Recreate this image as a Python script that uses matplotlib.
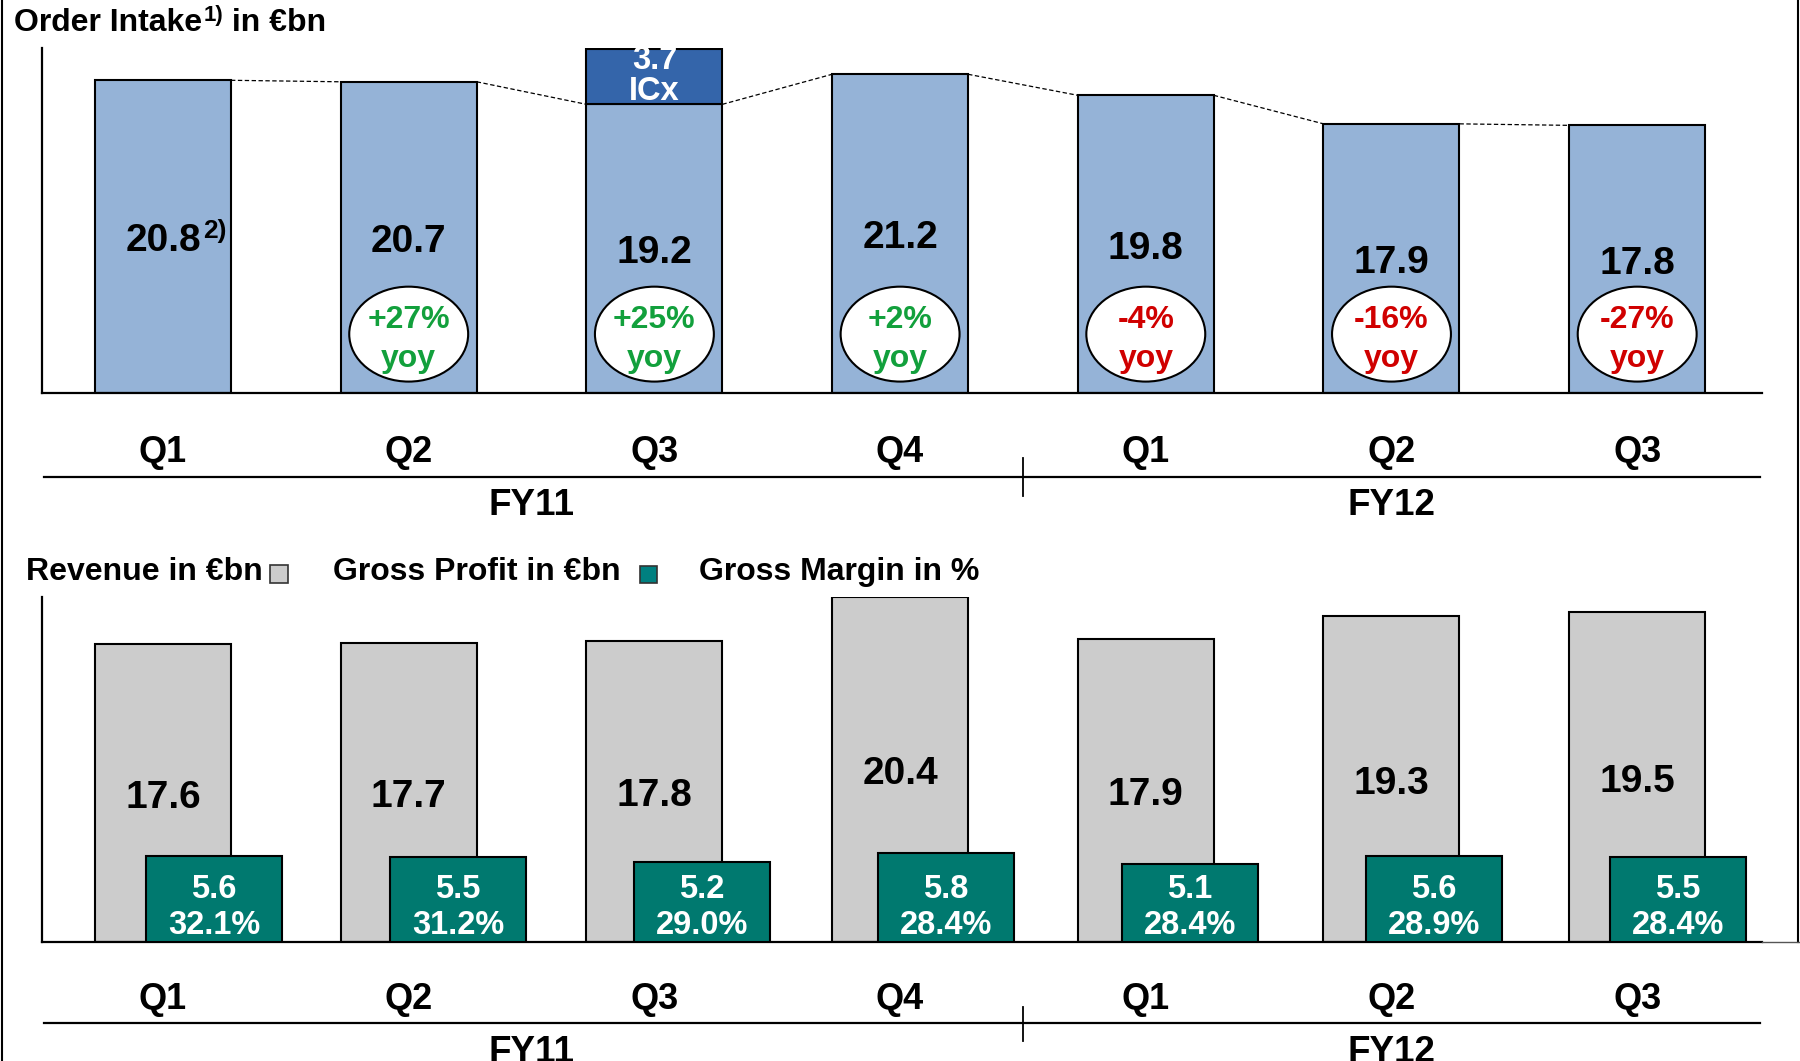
import numpy as np
import matplotlib
matplotlib.use('Agg')
import matplotlib.pyplot as plt
import matplotlib.transforms as mtransforms
from matplotlib.patches import Ellipse, Rectangle
from matplotlib.lines import Line2D

# data
quarters = ['Q1', 'Q2', 'Q3', 'Q4', 'Q1', 'Q2', 'Q3']
fiscal_years = ['FY11', 'FY12']
fy_of_quarter = [0, 0, 0, 0, 1, 1, 1]
order_intake = [20.8, 20.7, 19.2, 21.2, 19.8, 17.9, 17.8]
icx_intake = [0.0, 0.0, 3.7, 0.0, 0.0, 0.0, 0.0]
yoy_growth = [None, '+27%', '+25%', '+2%', '-4%', '-16%', '-27%']
revenue = [17.6, 17.7, 17.8, 20.4, 17.9, 19.3, 19.5]
gross_profit = [5.6, 5.5, 5.2, 5.8, 5.1, 5.6, 5.5]
gross_margin = [32.1, 31.2, 29.0, 28.4, 28.4, 28.9, 28.4]

plt.rcParams['font.family'] = ['Liberation Sans', 'DejaVu Sans']
plt.rcParams['font.weight'] = 'bold'

W, H = 1800, 1061
fig = plt.figure(figsize=(W / 100, H / 100), dpi=100)


def fx(px):
    return px / W


def fy(py):
    return 1 - py / H


def below(ax, px):
    # data transform shifted down by px pixels
    return mtransforms.offset_copy(ax.transData, fig=fig, x=0, y=-px, units='dots')


x = np.arange(len(quarters))
bw = 0.5535
xlim = (-0.4925, 6.508)


def category_axis(ax, q_px, line_px, tick_px, fy_px):
    for i, q in enumerate(quarters):
        ax.text(i, 0, q, transform=below(ax, q_px), ha='center', va='center',
                fontsize=26, clip_on=False)
    ax.plot([xlim[0] + 0.01, xlim[1] - 0.01], [0, 0], transform=below(ax, line_px),
            color='black', lw=1.6, clip_on=False)
    p0 = below(ax, tick_px[0]).transform((3.5, 0))
    p1 = below(ax, tick_px[1]).transform((3.5, 0))
    fig.add_artist(Line2D([p0[0] / W, p1[0] / W], [p0[1] / H, p1[1] / H],
                          transform=fig.transFigure, color='black', lw=1.3))
    for k, name in enumerate(fiscal_years):
        idx = [i for i in range(len(quarters)) if fy_of_quarter[i] == k]
        ax.text(np.mean(idx), 0, name, transform=below(ax, fy_px), ha='center',
                va='center', fontsize=26.5, clip_on=False)


def clean(ax):
    for s in ['top', 'right']:
        ax.spines[s].set_visible(False)
    ax.spines['left'].set_linewidth(1.6)
    ax.spines['bottom'].set_linewidth(1.6)
    ax.set_xticks([])
    ax.set_yticks([])
    ax.set_xlim(*xlim)
    ax.patch.set_alpha(0)


def value_label(ax, xi, yi, s, size, color='black', dy=-3.5):
    return ax.annotate(s, xy=(xi, yi), xytext=(0, dy), textcoords='offset points',
                       ha='center', va='center', fontsize=size, color=color, zorder=4)


# ---------------- Order intake ----------------
ax1 = fig.add_axes([fx(42), fy(392.7), fx(1720), 344.7 / H])
clean(ax1)
ax1.set_ylim(0, 22.95)
ax1.bar(x, order_intake, width=bw, color='#95B3D7', edgecolor='black', lw=1.5, zorder=2)
icx_x = [i for i in x if icx_intake[i] > 0]
ax1.bar(icx_x, [icx_intake[i] for i in icx_x], bottom=[order_intake[i] for i in icx_x],
        width=bw, color='#3465AA', edgecolor='black', lw=1.5, zorder=2)
for i in icx_x:
    value_label(ax1, i, order_intake[i] + icx_intake[i] * 0.85, f'{icx_intake[i]:.1f}',
                23.5, 'white', dy=-2.5)
    value_label(ax1, i, order_intake[i] + icx_intake[i] * 0.3, 'ICx', 23.5, 'white', dy=-2.5)

for i in range(len(x) - 1):
    ax1.plot([x[i] + bw / 2, x[i + 1] - bw / 2], [order_intake[i], order_intake[i + 1]],
             color='black', lw=0.9, ls=(0, (3.5, 2)), zorder=1)

for i, v in enumerate(order_intake):
    t = value_label(ax1, i, v / 2, f'{v:.1f}', 28)
    if i == 0:
        ax1.annotate('2)', xy=(1, 1), xycoords=t, xytext=(2, 3), textcoords='offset points',
                     ha='left', va='top', fontsize=19, zorder=4)

for i, g in enumerate(yoy_growth):
    if g is None:
        continue
    col = '#12A03C' if g.startswith('+') else '#D00000'
    ax1.add_patch(Ellipse((i, 3.9), 0.484, 6.32, facecolor='white', edgecolor='black',
                          lw=1.5, zorder=3))
    ax1.text(i, 4.3, g, ha='center', va='baseline', color=col, fontsize=23, zorder=4)
    ax1.text(i, 1.72, 'yoy', ha='center', va='baseline', color=col, fontsize=23, zorder=4)

category_axis(ax1, 60, 84, (65, 103), 113)

# ---------------- Revenue / gross profit ----------------
ax2 = fig.add_axes([fx(42), fy(941.7), fx(1720), 344.7 / H])
clean(ax2)
ax2.set_ylim(0, 20.4)
ax2.bar(x, revenue, width=bw, color='#CCCCCC', edgecolor='black', lw=1.5, zorder=2)
for i, v in enumerate(revenue):
    value_label(ax2, i, v / 2, f'{v:.1f}', 28)

# gross profit bars sit on their own overlay axes (slightly different spacing/scale)
ax3 = fig.add_axes([fx(42), fy(941.7), fx(1720), 344.7 / H])
ax3.set_xlim(-0.705, 6.344)
ax3.set_ylim(0, 22.5)
ax3.axis('off')
ax3.bar(x, gross_profit, width=0.56, color='#00796F', edgecolor='black', lw=1.5, zorder=2)
for i, (gp, gm) in enumerate(zip(gross_profit, gross_margin)):
    ax3.text(i, 3.38, f'{gp:.1f}', ha='center', va='center', color='white',
             fontsize=23.5, zorder=4)
    ax3.text(i, 1.05, f'{gm:.1f}%', ha='center', va='center', color='white',
             fontsize=23.5, zorder=4)

category_axis(ax2, 58, 81, (65, 99), 111)

# ---------------- titles / legend ----------------
t_main = fig.text(fx(14), fy(23), 'Order Intake', fontsize=23, va='center', ha='left')
t_sup = ax1.annotate('1)', xy=(1, 1), xycoords=t_main, xytext=(1, 2),
                     textcoords='offset points', ha='left', va='top', fontsize=16,
                     annotation_clip=False)
ax1.annotate(' in €bn', xy=(1, 0), xycoords=(t_sup, t_main), ha='left',
             va='bottom', fontsize=23, annotation_clip=False)

fig.text(fx(26), fy(572), 'Revenue in €bn', fontsize=23, va='center', ha='left')
fig.add_artist(Rectangle((fx(270), fy(583)), fx(18), 18 / H, facecolor='#CCCCCC',
                         edgecolor='#333333', lw=1.2, transform=fig.transFigure))
fig.text(fx(333), fy(572), 'Gross Profit in €bn', fontsize=23, va='center', ha='left')
fig.add_artist(Rectangle((fx(640), fy(583)), fx(17), 17 / H, facecolor='#008080',
                         edgecolor='#333333', lw=1.2, transform=fig.transFigure))
fig.text(fx(699), fy(572), 'Gross Margin in %', fontsize=23, va='center', ha='left')

# slide frame
fig.add_artist(Line2D([fx(1.5), fx(1.5)], [0, 1], transform=fig.transFigure,
                      color='black', lw=1.5))
fig.add_artist(Line2D([fx(1797.5), fx(1797.5)], [fy(941.7), 1], transform=fig.transFigure,
                      color='black', lw=1.5))
fig.add_artist(Line2D([fx(1762), 1], [fy(941.7), fy(941.7)], transform=fig.transFigure,
                      color='#555555', lw=1.0))

fig.savefig('out.png', dpi=100)
